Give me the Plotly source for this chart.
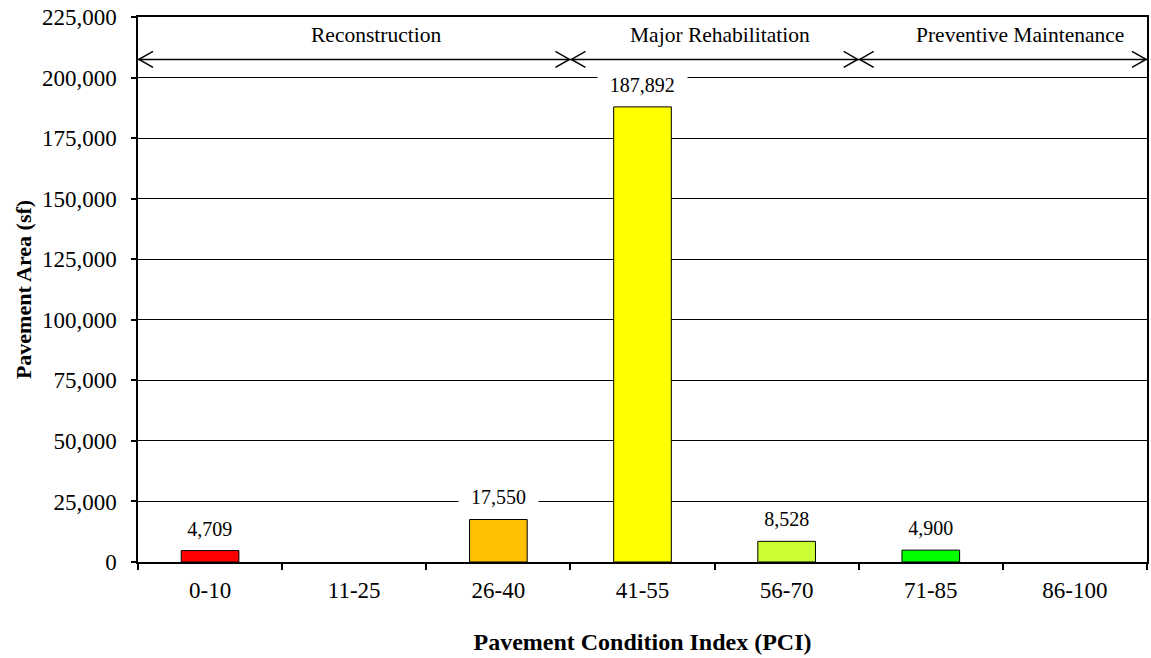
import plotly.graph_objects as go

# Pavement area by PCI condition range
categories = ["0-10", "11-25", "26-40", "41-55", "56-70", "71-85", "86-100"]
area_sf = [4709, 0, 17550, 187892, 8528, 4900, 0]
bar_colors = ["#FF0000", "#FFFFFF", "#FFC000", "#FFFF00", "#CCFF33", "#00FF00", "#FFFFFF"]

# Treatment bands spanning the PCI categories (category-index boundaries)
band_names = ["Reconstruction", "Major Rehabilitation", "Preventive Maintenance"]
band_starts = [-0.5, 2.5, 4.5]
band_ends = [2.5, 4.5, 6.5]
band_label_x = [1.15, 3.54, 5.62]
band_arrow_y = 207500
band_label_y = 217600

y_tick_vals = list(range(0, 225001, 25000))
y_tick_text = [f"{v:,}" for v in y_tick_vals]

SERIF = "Liberation Serif, Times New Roman, serif"

# empty categories get no outline so nothing shows above the axis
outline_widths = [1 if v > 0 else 0 for v in area_sf]

fig = go.Figure()
fig.add_trace(go.Bar(
    x=categories,
    y=area_sf,
    marker=dict(color=bar_colors, line=dict(color="#000000", width=outline_widths)),
    width=0.4,
    hoverinfo="x+y",
))

# value labels above each non-empty bar, on white boxes that break the gridlines
for cat, val in zip(categories, area_sf):
    if val <= 0:
        continue
    label = f"{val:,}"
    fig.add_annotation(
        x=cat, y=val, text=label, showarrow=False,
        xref="x", yref="y", yanchor="middle", yshift=22,
        bgcolor="#FFFFFF", width=len(label) * 9.5 + 20, height=22,
        font=dict(family=SERIF, size=20, color="#000000"),
    )

shapes = []
for name, x0, x1, lx in zip(band_names, band_starts, band_ends, band_label_x):
    # double-headed arrow across the band
    shapes.append(dict(type="line", xref="x", yref="y", x0=x0, x1=x1,
                       y0=band_arrow_y, y1=band_arrow_y,
                       line=dict(color="#000000", width=1.5)))
    shapes.append(dict(type="path", xref="x", yref="y",
                       xsizemode="pixel", ysizemode="pixel",
                       xanchor=x0, yanchor=band_arrow_y,
                       path="M 15,-8 L 1,0 L 15,8",
                       line=dict(color="#000000", width=1.5)))
    shapes.append(dict(type="path", xref="x", yref="y",
                       xsizemode="pixel", ysizemode="pixel",
                       xanchor=x1, yanchor=band_arrow_y,
                       path="M -15,-8 L -1,0 L -15,8",
                       line=dict(color="#000000", width=1.5)))
    fig.add_annotation(
        x=lx, y=band_label_y, text=name, showarrow=False,
        xref="x", yref="y", yanchor="middle",
        font=dict(family=SERIF, size=21.5, color="#000000"),
    )

fig.update_layout(
    width=1151, height=658,
    margin=dict(l=138, r=2, t=17, b=96),
    paper_bgcolor="#FFFFFF", plot_bgcolor="#FFFFFF",
    showlegend=False,
    shapes=shapes,
    font=dict(family=SERIF, color="#000000"),
)

fig.update_xaxes(
    type="category",
    range=[-0.5, 6.5],
    tickson="boundaries",
    ticks="outside", ticklen=6, tickwidth=1.5, tickcolor="#000000",
    showline=True, linecolor="#000000", linewidth=2, mirror=True,
    showgrid=False,
    tickfont=dict(family=SERIF, size=23, color="#000000"),
    ticklabelstandoff=6,
    title=dict(text="<b>Pavement Condition Index (PCI)</b>",
               font=dict(family=SERIF, size=24, color="#000000"),
               standoff=32),
)

fig.update_yaxes(
    range=[0, 225000],
    tickvals=y_tick_vals, ticktext=y_tick_text,
    ticks="outside", ticklen=5, tickwidth=1.5, tickcolor="#000000",
    showline=True, linecolor="#000000", linewidth=1.5, mirror=True,
    showgrid=True, gridcolor="#000000", gridwidth=1,
    zeroline=False,
    tickfont=dict(family=SERIF, size=23, color="#000000"),
    ticklabelstandoff=10,
    title=dict(text="<b>Pavement Area (sf)</b>",
               font=dict(family=SERIF, size=22, color="#000000"),
               standoff=4),
)

fig.write_html("out.html")
